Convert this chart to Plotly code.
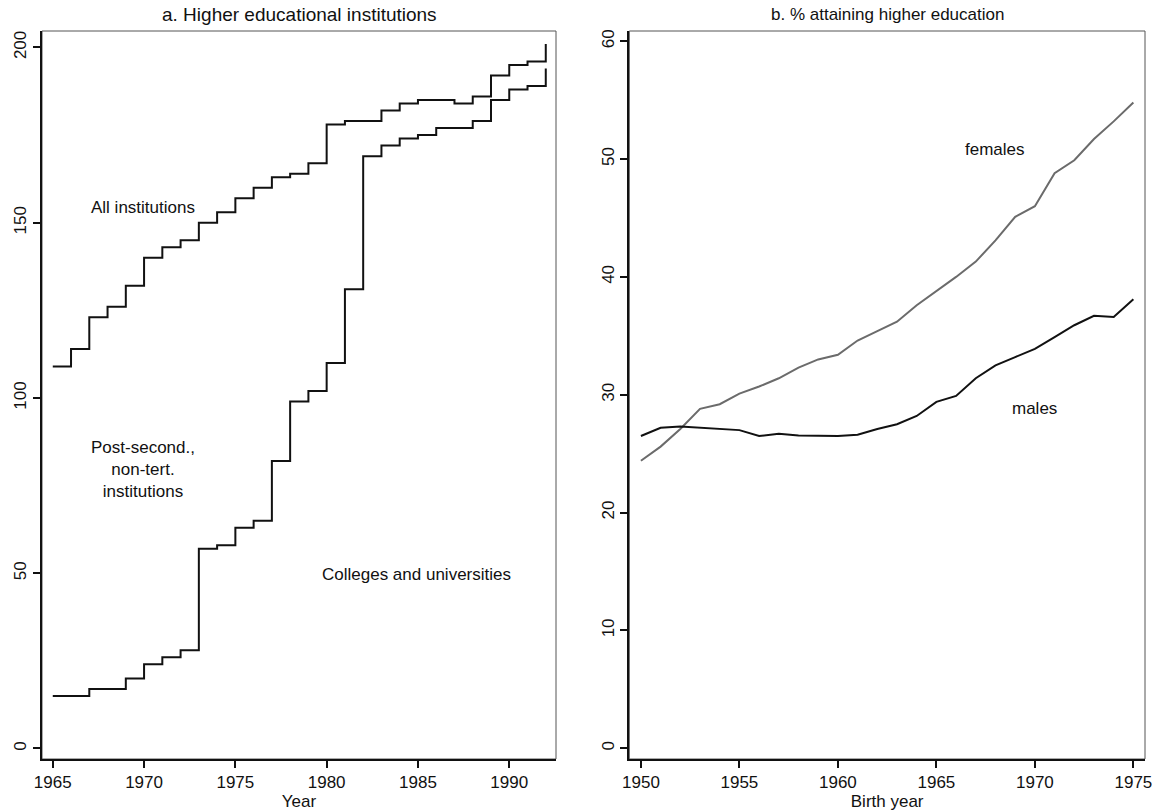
import plotly.graph_objects as go
from plotly.subplots import make_subplots

# ---- Panel a: higher educational institutions (stairstep) ----
years_a = list(range(1965, 1993))
all_institutions = [109, 114, 123, 126, 132, 140, 143, 145, 150, 153, 157, 160, 163, 164,
                    167, 178, 179, 179, 182, 184, 185, 185, 184, 186, 192, 195, 196, 201]
colleges_univ = [15, 15, 17, 17, 20, 24, 26, 28, 57, 58, 63, 65, 82, 99,
                 102, 110, 131, 169, 172, 174, 175, 177, 177, 179, 185, 188, 189, 194]

# ---- Panel b: % attaining higher education by birth year ----
years_b = list(range(1950, 1976))
females = [24.4, 25.6, 27.1, 28.8, 29.2, 30.1, 30.7, 31.4, 32.3, 33.0, 33.4, 34.6, 35.4,
           36.2, 37.6, 38.8, 40.0, 41.3, 43.1, 45.1, 46.0, 48.8, 49.9, 51.7, 53.2, 54.8]
males = [26.5, 27.2, 27.3, 27.2, 27.1, 27.0, 26.5, 26.7, 26.55, 26.5, 26.5, 26.6, 27.1,
         27.5, 28.2, 29.4, 29.9, 31.4, 32.5, 33.2, 33.9, 34.9, 35.9, 36.7, 36.6, 38.1]

FONT = "Liberation Sans, Arial, sans-serif"
W, H = 1161, 812

fig = make_subplots(rows=1, cols=2)

fig.add_trace(go.Scatter(x=years_a, y=all_institutions, mode="lines",
                         line=dict(shape="hv", color="#111111", width=2),
                         showlegend=False), row=1, col=1)
fig.add_trace(go.Scatter(x=years_a, y=colleges_univ, mode="lines",
                         line=dict(shape="hv", color="#111111", width=2),
                         showlegend=False), row=1, col=1)
fig.add_trace(go.Scatter(x=years_b, y=females, mode="lines",
                         line=dict(color="#6b6b6b", width=2),
                         showlegend=False), row=1, col=2)
fig.add_trace(go.Scatter(x=years_b, y=males, mode="lines",
                         line=dict(color="#111111", width=2),
                         showlegend=False), row=1, col=2)

ydom = [1 - 759 / H, 1 - 31 / H]
axis_common = dict(showgrid=False, zeroline=False, showline=True, linecolor="#111111",
                   linewidth=2, ticks="outside", ticklen=7, tickwidth=1.5,
                   tickcolor="#111111", tickfont=dict(family=FONT, size=17, color="#111111"),
                   automargin=False)

fig.update_xaxes(axis_common)
fig.update_yaxes(axis_common)

fig.update_xaxes(domain=[42 / W, 556 / W], range=[1964.41, 1992.56],
                 tickvals=[1965, 1970, 1975, 1980, 1985, 1990],
                 title=dict(text="Year", font=dict(family=FONT, size=17, color="#111111"),
                            standoff=0), row=1, col=1)
fig.update_yaxes(domain=ydom, range=[-3.0, 204.7], tickvals=[0, 50, 100, 150, 200],
                 tickangle=-90, row=1, col=1)
fig.update_xaxes(domain=[629.3 / W, 1145 / W], range=[1949.41, 1975.59],
                 tickvals=[1950, 1955, 1960, 1965, 1970, 1975],
                 title=dict(text="Birth year", font=dict(family=FONT, size=17, color="#111111"),
                            standoff=0), row=1, col=2)
fig.update_yaxes(domain=ydom, range=[-0.91, 60.87], tickvals=[0, 10, 20, 30, 40, 50, 60],
                 tickangle=-90, row=1, col=2)

# thin border boxes around the plot areas
for xr, yr in (("x domain", "y domain"), ("x2 domain", "y2 domain")):
    fig.add_shape(type="rect", xref=xr, yref=yr, x0=0, x1=1, y0=0, y1=1,
                  line=dict(color="#555555", width=1), layer="below")

lab = dict(family=FONT, size=17, color="#111111")
fig.add_annotation(text="All institutions", x=1969.93, y=154.3, xref="x", yref="y",
                   showarrow=False, font=lab)
fig.add_annotation(text="Post-second.,<br>non-tert.<br>institutions", x=1969.96, y=79.5,
                   xref="x", yref="y", showarrow=False, font=lab, align="center")
fig.add_annotation(text="Colleges and universities", x=1984.93, y=49.7, xref="x", yref="y",
                   showarrow=False, font=lab)
fig.add_annotation(text="females", x=1968.0, y=50.8, xref="x2", yref="y2",
                   showarrow=False, font=lab)
fig.add_annotation(text="males", x=1970.0, y=28.8, xref="x2", yref="y2",
                   showarrow=False, font=lab)

fig.add_annotation(text="a. Higher educational institutions", x=299 / W, y=1 - 14 / H,
                   xref="paper", yref="paper", showarrow=False, xanchor="center",
                   yanchor="middle", font=dict(family=FONT, size=19, color="#111111"))
fig.add_annotation(text="b. % attaining higher education", x=887 / W, y=1 - 14 / H,
                   xref="paper", yref="paper", showarrow=False, xanchor="center",
                   yanchor="middle", font=dict(family=FONT, size=17, color="#111111"))

fig.update_layout(width=W, height=H, margin=dict(l=0, r=0, t=0, b=0),
                  paper_bgcolor="white", plot_bgcolor="white",
                  font=dict(family=FONT, color="#111111"))

fig.write_html("out.html")
